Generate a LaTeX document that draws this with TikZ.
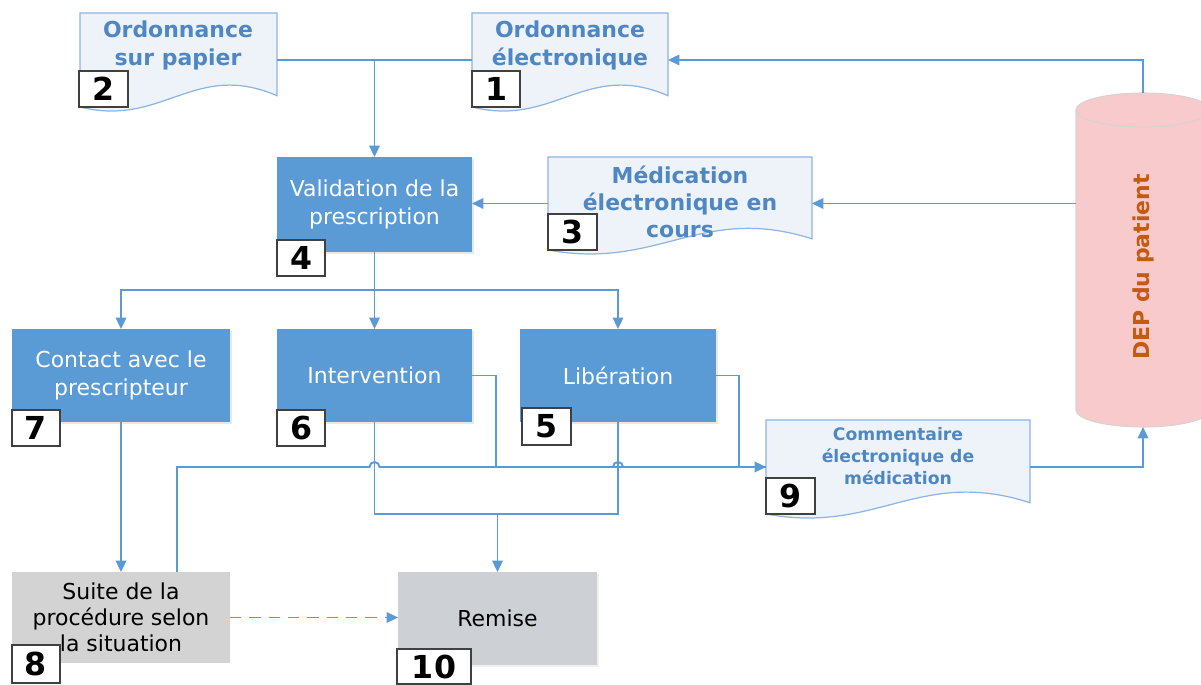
\documentclass[tikz,border=0pt]{standalone}
\usepackage{fontspec}
\setmainfont{DejaVu Sans}
\usetikzlibrary{calc,arrows.meta,shadows}

\definecolor{flowline}{HTML}{5B9BD5}
\definecolor{boxblue}{HTML}{5B9BD5}
\definecolor{docfill}{HTML}{EEF3FA}
\definecolor{docedge}{HTML}{8EB4E3}
\definecolor{doctext}{HTML}{4F87C3}
\definecolor{grayA}{HTML}{D3D3D3}
\definecolor{grayB}{HTML}{CDD0D4}
\definecolor{cylfill}{HTML}{F8CACC}
\definecolor{cyledge}{HTML}{D8D2D2}
\definecolor{deptext}{HTML}{C55A11}

% rectangular node given by its two corners (left, top, right, bottom)
\newcommand\rectnode[6]{%
  \node[#1, minimum width={(#5-#3)*0.02cm}, minimum height={(#6-#4)*0.02cm}]
    (#2) at ({(#3+#5)/2},{(#4+#6)/2})}

% document outline: flat top, wavy bottom
\newcommand\docoutline[1]{%
  \path[draw=docedge, fill=docfill, line width=0.7pt]
    let \p1=(#1.north west), \p2=(#1.south east) in
    (\x1,\y2) -- (\x1,\y1) -- (\x2,\y1) -- (\x2,{\y2+0.12*(\y1-\y2)})
    .. controls ({\x1+0.58*(\x2-\x1)},{\y2+0.5*(\y1-\y2)})
       and ({\x1+0.42*(\x2-\x1)},{\y2-0.22*(\y1-\y2)}) .. (\x1,\y2) -- cycle;}

\begin{document}
\begin{tikzpicture}[x=0.02cm, y=-0.02cm,
  area/.style={inner sep=0pt, outer sep=0pt},
  bluebox/.style={area, fill=boxblue, text=white, align=center,
    font=\fontsize{12.5}{15.9}\selectfont,
    drop shadow={shadow xshift=1.2pt, shadow yshift=-1.2pt, opacity=0.18}},
  graybox/.style={area, fill=grayA, text=black, align=center,
    font=\fontsize{12.5}{14.8}\selectfont},
  doclabel/.style={inner sep=0pt, text=doctext, align=center,
    font=\bfseries\fontsize{12.5}{15.9}\selectfont},
  numbox/.style={area, fill=white, draw=black!75, line width=0.6pt,
    font=\bfseries\fontsize{18}{18}\selectfont},
  flow/.style={draw=flowline, line width=1.1pt},
  arr/.style={flow, -{Triangle[length=6.5pt,width=6pt]}},
]
\useasboundingbox (0,0) rectangle (1201,685);
\clip (0,0) rectangle (1201,685);

% patient record cylinder
\fill[cylfill] (1076,110) -- (1076,410)
  arc[start angle=180, end angle=0, x radius=67, y radius=17]
  -- (1210,110)
  arc[start angle=0, end angle=-180, x radius=67, y radius=17] -- cycle;
\draw[cyledge, line width=0.6pt] (1076,110) -- (1076,410)
  arc[start angle=180, end angle=0, x radius=67, y radius=17];
\draw[cyledge, line width=0.6pt] (1076,110)
  arc[start angle=180, end angle=-180, x radius=67, y radius=17];
\rectnode{area}{dep}{1076}{93}{1210}{427} {};
\node[rotate=90, text=deptext, font=\bfseries\fontsize{12.5}{15}\selectfont]
  (deplabel) at (1143,267) {DEP du patient};

% documents
\rectnode{area}{d2}{80}{13}{277}{107} {};
\docoutline{d2}
\node[doclabel] (d2t) at (178,45) {Ordonnance\\sur papier};

\rectnode{area}{d1}{472}{13}{668}{107} {};
\docoutline{d1}
\node[doclabel] (d1t) at (570,45) {Ordonnance\\électronique};

\rectnode{area}{d3}{548}{157}{812}{250} {};
\docoutline{d3}
\node[doclabel, font=\bfseries\fontsize{12.5}{15.3}\selectfont] (d3t) at (680,202)
  {Médication\\électronique en\\cours};

\rectnode{area}{d9}{766}{420}{1030}{514} {};
\docoutline{d9}
\node[doclabel, font=\bfseries\fontsize{9.8}{12.5}\selectfont] (d9t) at (898,456)
  {Commentaire\\électronique de\\médication};

% process boxes
\rectnode{bluebox}{v}{277}{157}{472}{252} {Validation de la\\prescription};
\rectnode{bluebox}{c7}{12}{329}{230}{422} {Contact avec le\\prescripteur};
\rectnode{bluebox}{iv}{277}{329}{472}{422} {Intervention};
\rectnode{bluebox}{lb}{520}{329}{716}{422} {Libération};
\rectnode{graybox}{s8}{12}{572}{230}{663} {Suite de la\\procédure selon\\la situation};
\rectnode{graybox, fill=grayB,
  drop shadow={shadow xshift=1.2pt, shadow yshift=-1.2pt, opacity=0.12}}{r10}{398}{572}{597}{665} {Remise};

% connectors
\draw[flow] (d2.east) -- (d1.east -| d1.west);
\draw[arr] (v.north |- d2.east) -- (v.north);
\draw[arr] (dep.north) |- (d1.east);
\draw[arr] (dep.west |- d3.east) -- (d3.east);
\draw[arr] (d3.west) -- (d3.west -| v.east);

\coordinate (br) at ($(v.south)+(0,38)$);
\draw[flow] (v.south) -- (br);
\draw[arr] (br) -| (c7.north);
\draw[arr] (br) -| (lb.north);
\draw[arr] (br) -- (iv.north);

\draw[arr] (c7.south) -- (s8.north -| c7.south);

% comment line rising from box 8, jumping over the two verticals
\coordinate (s8up) at ($(s8.north)+(56,0)$);
\draw[arr] (s8up) -- ($(s8up |- d9.west)$) -- ($(iv.south |- d9.west)+(-5,0)$)
  arc[start angle=180, end angle=360, radius=5]
  -- ($(lb.south |- d9.west)+(-5,0)$)
  arc[start angle=180, end angle=360, radius=5]
  -- (d9.west);
\draw[flow] (iv.east) -- ++(24,0) |- (d9.west);
\draw[flow] (lb.east) -- ++(23,0) |- (d9.west);
\draw[arr] (d9.east) -| (dep.south);

\coordinate (m) at (r10.north |- 0,514);
\draw[flow] (iv.south) |- (m) -| (lb.south);
\draw[arr] (m) -- (r10.north);

\draw[arr, dash pattern=on 6.5pt off 4.5pt] (s8.east) -- (s8.east -| r10.west);

% step numbers
\rectnode{numbox}{n2}{79}{71}{128}{107} {2};
\rectnode{numbox}{n1}{472}{71}{520}{107} {1};
\rectnode{numbox}{n3}{548}{214}{597}{250} {3};
\rectnode{numbox}{n4}{277}{240}{325}{276} {4};
\rectnode{numbox}{n7}{12}{410}{60}{446} {7};
\rectnode{numbox}{n6}{277}{410}{325}{446} {6};
\rectnode{numbox}{n5}{522}{408}{571}{445} {5};
\rectnode{numbox}{n9}{766}{478}{815}{514} {9};
\rectnode{numbox}{n8}{12}{645}{60}{683} {8};
\rectnode{numbox}{n10}{397}{649}{471}{684} {10};
\end{tikzpicture}
\end{document}
